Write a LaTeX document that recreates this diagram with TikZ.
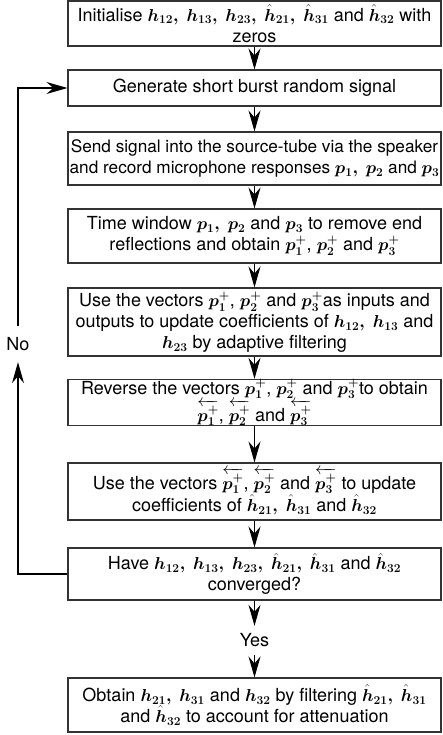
\documentclass[tikz,border=0pt]{standalone}
\usepackage{amsmath,bm}
\usepackage{fontspec}
\setmainfont{TeX Gyre Heros}
\usetikzlibrary{arrows.meta}
% bold forward and reversed pressure vectors
\newcommand{\pfwd}[1]{\bm{p}_{\bm{#1}}^{\bm{+}}}
\newcommand{\prev}[1]{\overleftarrow{\pfwd{#1}}}
% bold comma-separated list item: math comma followed by a word space
\newcommand{\sep}{\bm{,}\ }
\tikzset{
  box/.style={draw=black!80, line width=1.1pt, minimum width=373pt,
    align=center, inner sep=0pt, font=\fontsize{18}{21}\selectfont},
  arr/.style={line width=1.1pt, -{Stealth[length=21pt,width=12pt,inset=7pt]}},
  lbl/.style={inner sep=0pt, font=\fontsize{18}{21}\selectfont},
}
\begin{document}
\begin{tikzpicture}[x=1pt,y=-1pt]
\useasboundingbox (0,0) rectangle (443,735);
\node[box, minimum height=45] (b1) at (254.5,23.5)
  {Initialise $\bm{h_{12}}\sep\bm{h_{13}}\sep\bm{h_{23}}\sep\bm{\hat{h}_{21}}\sep\bm{\hat{h}_{31}}$ and $\bm{\hat{h}_{32}}$ with\\zeros};
\node[box, minimum height=36] (b2) at (254.5,88)
  {Generate short burst random signal};
\node[box, minimum height=53, font=\fontsize{17.2}{21}\selectfont] (b3) at (254.5,158.5)
  {Send signal into the source-tube via the speaker\\and record microphone responses $\bm{p_1}\sep\bm{p_2}$ and $\bm{p_3}$};
\node[box, minimum height=54] (b4) at (254.5,236)
  {Time window $\bm{p_1}\sep\bm{p_2}$ and $\bm{p_3}$ to remove end\\reflections and obtain $\pfwd{1}$, $\pfwd{2}$ and $\pfwd{3}$};
\node[box, minimum height=68] (b5) at (254.5,322)
  {Use the vectors $\pfwd{1}$, $\pfwd{2}$ and $\pfwd{3}$as inputs and\\outputs to update coefficients of $\bm{h_{12}}\sep\bm{h_{13}}$ and\\$\bm{h_{23}}$ by adaptive filtering};
\node[box, minimum height=45] (b6) at (254.5,402.5)
  {Reverse the vectors $\pfwd{1}$, $\pfwd{2}$ and $\pfwd{3}$to obtain\\$\prev{1}$, $\prev{2}$ and $\prev{3}$};
\node[box, minimum height=57] (b7) at (254.5,491.5)
  {Use the vectors $\prev{1}$, $\prev{2}$ and $\prev{3}$ to update\\coefficients of $\bm{\hat{h}_{21}}\sep\bm{\hat{h}_{31}}$ and $\bm{\hat{h}_{32}}$};
\node[box, minimum height=52] (b8) at (254.5,574)
  {Have $\bm{h_{12}}\sep\bm{h_{13}}\sep\bm{h_{23}}\sep\bm{\hat{h}_{21}}\sep\bm{\hat{h}_{31}}$ and $\bm{\hat{h}_{32}}$\\converged?};
\node[box, minimum height=54] (b9) at (254.5,705)
  {Obtain $\bm{h_{21}}\sep\bm{h_{31}}$ and $\bm{h_{32}}$ by filtering $\bm{\hat{h}_{21}}\sep\bm{\hat{h}_{31}}$\\and $\bm{\hat{h}_{32}}$ to account for attenuation};
% decision labels
\node[lbl, minimum height=29] (yes) at (254.5,640.5) {Yes};
\node[lbl, minimum height=36] (no) at (18,344) {No};
% main flow
\draw[arr] (b1) -- (b2);
\draw[arr] (b2) -- (b3);
\draw[arr] (b3) -- (b4);
\draw[arr] (b4) -- (b5);
\draw[arr] (b5) -- (b6);
\draw[arr] (b6) -- (b7);
\draw[arr] (b7) -- (b8);
\draw[arr] (b8) -- (yes);
\draw[arr] (yes) -- (b9);
% loop back when not converged
\draw[arr] (b8.west) -| (no.south);
\draw[arr] (no.north) |- (b2.west);
\end{tikzpicture}
\end{document}
